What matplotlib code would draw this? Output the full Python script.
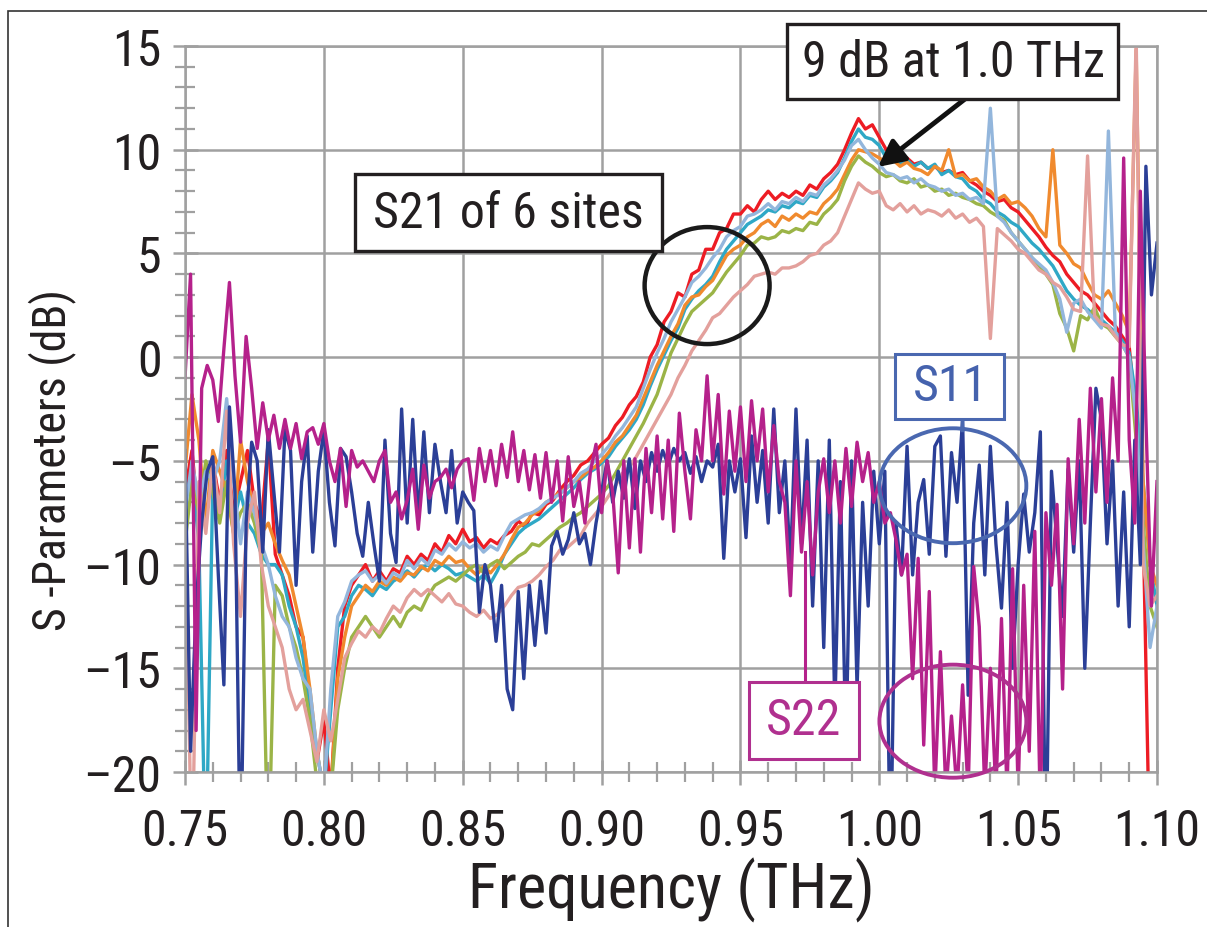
import matplotlib
matplotlib.use('Agg')
import matplotlib.pyplot as plt
import numpy as np
from matplotlib import font_manager
from matplotlib.patches import Rectangle, Ellipse
from matplotlib.ticker import MultipleLocator, FuncFormatter

# a narrow face is closer to the original; fall back to Liberation Sans with smaller sizes
installed = {f.name for f in font_manager.fontManager.ttflist}
if 'Liberation Sans Narrow' in installed:
    face, k = 'Liberation Sans Narrow', 1.0
elif 'Roboto Condensed' in installed:
    face, k = 'Roboto Condensed', 1.0
else:
    face, k = 'Liberation Sans', 0.86
plt.rcParams['font.family'] = [face, 'DejaVu Sans']

# S21 traces sampled every 2.5 GHz, S11 / S22 every 2 GHz
freq_s21 = np.round(np.linspace(0.75, 1.10, 141), 4)
freq_refl = np.round(np.linspace(0.75, 1.10, 176), 4)

s21_red = [
    -6.5, -4.5, -8.0, -5.5, -5.0, -7.0, -4.5, -7.5, -6.0, -4.5,
    -7.0, -8.0, -4.0, -9.5, -10.5, -11.5, -13.0, -13.5, -16.5, -19.5,
    -17.5, -21.0, -15.0, -12.0, -11.0, -10.5, -10.0, -10.8, -10.3, -10.8,
    -10.2, -10.4, -9.6, -10.0, -9.5, -9.8, -9.0, -9.4, -8.6, -9.0,
    -8.3, -8.9, -8.7, -9.2, -8.8, -9.0, -8.6, -8.4, -7.9, -8.2,
    -7.5, -7.6, -7.1, -6.9, -6.4, -6.0, -5.7, -5.2, -5.0, -4.6,
    -4.2, -3.9, -3.3, -2.9, -2.3, -1.9, -1.2, 0.0, 0.6, 1.7,
    2.2, 3.1, 2.9, 4.0, 4.2, 5.2, 5.2, 6.0, 6.2, 6.9,
    6.9, 7.3, 7.0, 7.6, 8.0, 7.6, 7.9, 7.7, 8.0, 7.8,
    8.3, 8.1, 8.6, 8.9, 9.3, 10.0, 10.8, 11.5, 11.0, 11.2,
    10.6, 10.0, 9.8, 9.5, 9.6, 9.3, 9.4, 9.1, 9.2, 8.9,
    9.0, 8.8, 8.9, 8.5, 8.3, 8.0, 7.8, 7.5, 7.6, 7.2,
    7.0, 6.6, 6.2, 5.8, 5.3, 4.9, 4.6, 4.0, 3.6, 3.2,
    3.0, 2.6, 2.2, 1.8, 1.5, 1.0, 0.5, -3.0, -8.0, -25.0,
    -25.0]

s21_cyan = [
    -7.0, -5.5, -9.0, -25.0, -6.0, -7.5, -5.0, -8.0, -6.5, -8.0,
    -8.5, -9.5, -10.0, -10.0, -10.5, -12.0, -13.0, -14.5, -17.0, -19.0,
    -21.0, -17.0, -13.0, -12.5, -11.5, -11.0, -11.2, -11.5, -11.0, -11.2,
    -10.8, -10.6, -10.3, -10.6, -10.2, -10.0, -10.3, -10.0, -10.2, -10.5,
    -10.4, -10.6, -10.8, -10.5, -10.9, -10.3, -9.5, -9.0, -8.5, -8.2,
    -8.0, -7.8, -7.5, -7.2, -6.9, -6.6, -6.3, -5.9, -5.6, -5.4,
    -5.1, -4.8, -4.3, -3.9, -3.5, -3.0, -2.3, -1.4, -0.6, 0.1,
    0.8, 1.4, 2.3, 2.8, 3.2, 3.5, 3.9, 4.6, 5.2, 5.6,
    6.0, 6.4, 6.6, 6.8, 7.1, 7.0, 7.3, 7.2, 7.5, 7.4,
    7.8, 7.7, 8.2, 8.5, 8.9, 9.6, 10.4, 11.0, 10.6, 10.5,
    10.2, 9.6, 9.5, 9.3, 9.5, 9.2, 9.4, 9.1, 9.3, 8.8,
    9.0, 8.7, 8.6, 8.2, 8.0, 7.6, 7.4, 7.0, 6.8, 6.5,
    6.3, 5.9, 5.5, 5.2, 4.8, 4.4, 3.8, 3.2, 2.8, 2.5,
    2.3, 2.0, 1.8, 1.5, 1.2, 0.8, 0.2, -2.0, -6.0, -10.0,
    -12.0]

s21_orange = [
    -5.5, -1.8, -4.0, -8.0, -4.5, -5.5, -6.5, -8.5, -4.0, -6.0,
    -7.5, -8.5, -8.0, -9.0, -9.8, -10.5, -12.0, -13.5, -16.0, -19.0,
    -21.0, -21.0, -15.5, -13.5, -12.0, -11.5, -11.0, -11.3, -10.8, -11.0,
    -10.6, -10.8, -10.4, -10.5, -10.1, -10.3, -9.8, -10.0, -9.6, -9.9,
    -9.8, -10.2, -10.5, -10.1, -10.4, -10.0, -9.5, -8.8, -8.2, -8.0,
    -7.6, -7.4, -7.0, -6.8, -6.5, -6.3, -6.0, -5.8, -5.5, -5.3,
    -5.0, -4.6, -4.1, -3.8, -3.3, -2.8, -2.0, -1.2, -0.4, 0.3,
    1.0, 1.6, 2.5, 2.9, 3.0, 3.4, 3.7, 4.3, 4.9, 5.2,
    5.4, 5.8, 6.0, 6.4, 6.6, 6.3, 6.8, 6.6, 6.9, 6.7,
    7.0, 6.9, 7.4, 7.7, 8.1, 8.8, 9.5, 10.0, 9.9, 9.8,
    9.6, 9.4, 9.5, 9.2, 9.4, 9.1, 9.0, 8.8, 9.2, 9.0,
    10.0, 8.7, 8.8, 8.5, 8.6, 8.2, 8.0, 7.6, 7.8, 7.4,
    7.5, 7.2, 6.8, 6.2, 5.8, 10.0, 5.4, 5.0, 4.5, 4.3,
    3.6, 3.0, 2.8, 3.2, 2.6, 2.0, 1.2, 14.8, -6.0, -10.0,
    -11.0]

s21_green = [
    -9.0, -6.0, -7.5, -5.0, -6.5, -8.0, -6.0, -8.5, -7.5, -7.0,
    -8.0, -9.5, -25.0, -11.0, -11.5, -13.0, -14.0, -15.5, -17.5, -20.5,
    -21.0, -21.0, -17.0, -15.0, -13.5, -13.0, -12.5, -13.0, -13.5, -13.0,
    -12.5, -13.0, -12.3, -12.0, -12.2, -11.5, -11.0, -10.8, -10.6, -10.8,
    -10.5, -10.2, -10.0, -10.4, -10.0, -9.8, -10.2, -9.9, -9.6, -9.4,
    -9.0, -9.1, -8.8, -8.5, -8.2, -8.0, -7.7, -7.5, -7.2, -6.9,
    -6.6, -6.2, -5.6, -5.0, -4.4, -3.8, -3.2, -2.5, -1.8, -0.8,
    0.2, 0.9, 1.6, 2.2, 2.5, 2.8, 3.1, 3.6, 4.1, 4.5,
    4.9, 5.4, 5.5, 5.8, 5.7, 5.8, 6.1, 6.0, 6.2, 6.1,
    6.5, 6.4, 6.9, 7.2, 7.6, 8.5, 9.2, 9.7, 9.4, 9.2,
    8.9, 8.7, 8.8, 8.5, 8.4, 8.6, 8.2, 8.3, 8.0, 8.1,
    7.8, 7.9, 7.7, 7.6, 7.4, 7.3, 7.0, 6.8, 6.6, 6.0,
    5.6, 5.2, 4.8, 4.4, 4.0, 3.5, 2.1, 1.4, 0.3, 2.0,
    1.8, 2.4, 1.6, 1.4, 1.0, 0.6, 0.0, -4.0, -8.0, -12.0,
    -13.0]

s21_lightblue = [
    -7.5, -5.0, -7.0, -5.5, -6.0, -5.0, -2.0, -6.0, -9.0, -6.5,
    -7.5, -9.0, -10.0, -11.5, -12.5, -13.0, -14.5, -15.5, -16.0, -19.0,
    -21.0, -16.0, -12.5, -11.8, -10.8, -10.5, -10.3, -10.8, -10.5, -10.9,
    -10.4, -10.6, -9.8, -10.2, -9.7, -10.0, -9.3, -9.5, -9.0, -9.3,
    -8.9, -9.2, -9.0, -9.4, -9.1, -9.3, -8.6, -8.0, -7.8, -7.6,
    -7.5, -7.3, -7.0, -6.8, -6.6, -6.3, -6.0, -5.6, -5.4, -5.0,
    -4.7, -4.3, -3.8, -3.4, -2.9, -2.4, -1.5, -0.6, 0.2, 0.9,
    1.7, 2.3, 2.9, 3.6, 3.9, 4.3, 4.8, 5.2, 5.8, 6.1,
    6.3, 6.8, 6.9, 7.1, 7.4, 7.1, 7.5, 7.4, 7.7, 7.5,
    7.9, 7.8, 8.3, 8.6, 9.0, 9.5, 10.2, 10.5, 10.0, 9.6,
    9.3, 8.9, 8.8, 8.6, 8.7, 8.4, 8.6, 8.3, 8.2, 8.0,
    8.1, 7.8, 7.9, 7.6, 7.7, 7.4, 12.0, 6.8, 6.5, 6.0,
    5.6, 5.2, 4.8, 4.5, 4.2, 3.6, 2.8, 1.2, 2.6, 2.8,
    2.2, 1.8, 1.4, 10.9, 1.2, 0.6, 0.0, -3.0, -9.0, -14.0,
    -12.0]

s21_pink = [
    -7.0, -25.0, -6.0, -8.5, -5.0, -7.5, -2.6, -9.0, -12.5, -8.0,
    -6.5, -10.0, -12.0, -13.0, -14.0, -16.0, -17.0, -16.5, -18.0, -19.5,
    -17.0, -18.5, -16.5, -14.5, -13.8, -13.2, -13.5, -13.0, -13.3, -12.6,
    -12.0, -12.3, -11.6, -11.2, -11.5, -11.2, -11.5, -11.8, -11.4, -11.9,
    -12.0, -12.3, -12.5, -12.2, -12.6, -12.4, -12.0, -11.5, -11.1, -11.0,
    -10.8, -10.5, -10.1, -9.8, -9.3, -9.2, -8.9, -8.6, -8.0, -7.6,
    -7.2, -6.7, -6.2, -5.6, -5.3, -4.8, -4.2, -3.6, -3.0, -2.4,
    -1.8, -1.0, -0.4, 0.3, 0.8, 1.3, 1.9, 2.1, 2.5, 2.9,
    3.2, 3.5, 3.9, 4.0, 4.1, 4.0, 4.3, 4.3, 4.4, 4.6,
    4.9, 5.0, 5.4, 5.6, 6.0, 6.8, 7.6, 8.4, 8.1, 7.9,
    8.0, 7.3, 7.1, 7.4, 7.0, 7.3, 6.9, 7.1, 7.0, 6.8,
    7.1, 6.7, 6.9, 6.5, 6.7, 6.3, 0.9, 6.2, 5.9, 5.6,
    5.2, 5.0, 4.6, 4.2, 4.0, 3.6, 3.4, 2.9, 2.3, 2.2,
    9.7, 2.0, 1.6, 1.5, 1.0, 0.6, 0.5, 15.5, -10.0, -12.0,
    -11.5]

s11 = [
    -4.5, -19.0, -12.0, -8.0, -5.5, -4.8, -10.5, -15.8, -2.4, -6.5,
    -25.0, -8.0, -4.1, -5.0, -9.4, -3.5, -6.5, -9.4, -3.5, -4.5,
    -11.0, -6.0, -3.8, -9.4, -5.5, -3.5, -7.0, -9.1, -4.4, -4.8,
    -6.5, -8.5, -9.6, -7.0, -9.0, -10.8, -4.0, -8.5, -9.9, -2.5,
    -8.0, -3.0, -7.8, -3.6, -7.5, -4.2, -6.0, -7.5, -4.5, -8.0,
    -6.5, -7.0, -7.4, -12.3, -10.0, -11.0, -13.7, -11.0, -16.0, -17.0,
    -11.3, -15.5, -11.0, -13.9, -10.8, -13.3, -9.1, -8.4, -9.5, -8.8,
    -7.5, -9.0, -8.5, -10.0, -8.0, -6.5, -5.0, -7.0, -5.5, -6.8,
    -4.9, -7.3, -5.0, -6.0, -4.6, -5.5, -4.5, -5.2, -4.4, -5.0,
    -4.6, -5.6, -4.8, -6.0, -5.0, -5.3, -4.2, -9.7, -5.0, -6.5,
    -4.9, -8.7, -3.8, -7.0, -4.5, -8.0, -2.5, -7.5, -5.0, -10.0,
    -2.5, -9.0, -4.0, -12.0, -5.0, -14.0, -4.0, -17.0, -6.0, -19.0,
    -5.0, -16.0, -7.0, -12.0, -5.5, -9.0, -5.5, -25.0, -8.0, -10.5,
    -4.3, -10.5, -7.0, -5.9, -9.5, -4.3, -3.8, -9.6, -4.6, -7.0,
    -3.0, -16.3, -8.0, -5.2, -10.5, -4.3, -9.0, -12.1, -7.0, -15.0,
    -10.0, -6.6, -9.4, -7.5, -3.6, -25.0, -5.5, -9.0, -12.5, -5.4,
    -9.4, -5.0, -15.0, -8.0, -1.5, -3.0, -9.0, -5.0, -12.0, -6.5,
    -13.0, -4.0, -10.0, 9.2, 3.0, 5.5]

s22 = [
    -1.0, 4.0, -18.0, -1.5, -0.4, -1.1, -3.1, 0.4, 3.6, -0.9,
    -4.1, 1.0, -1.5, -4.4, -2.2, -4.0, -2.8, -4.4, -3.0, -4.4,
    -3.2, -4.9, -3.6, -3.4, -4.2, -3.2, -5.0, -6.0, -4.4, -7.2,
    -4.5, -5.3, -5.0, -5.5, -6.0, -5.0, -4.5, -7.0, -6.5, -7.8,
    -6.9, -5.4, -8.3, -5.2, -6.8, -6.0, -5.8, -5.4, -6.3, -5.4,
    -5.0, -4.9, -6.9, -4.4, -6.0, -4.5, -6.2, -4.2, -5.8, -3.6,
    -6.0, -4.5, -6.4, -4.7, -6.8, -4.6, -7.0, -5.0, -7.9, -4.8,
    -7.2, -6.0, -8.0, -5.5, -4.2, -7.5, -5.0, -6.5, -10.4, -5.0,
    -9.2, -4.9, -9.4, -4.4, -7.5, -3.8, -7.8, -4.0, -8.4, -2.7,
    -5.5, -7.8, -3.5, -5.0, -0.9, -5.0, -1.8, -6.6, -2.6, -5.5,
    -2.4, -6.0, -2.1, -5.0, -2.5, -6.5, -3.3, -6.0, -7.0, -11.5,
    -5.0, -9.4, -6.0, -10.5, -6.5, -4.9, -7.5, -5.0, -8.0, -4.4,
    -7.2, -4.1, -6.0, -4.6, -7.0, -6.0, -8.0, -7.5, -8.8, -10.5,
    -9.5, -15.5, -9.7, -18.7, -11.3, -21.0, -14.2, -21.0, -17.3, -21.0,
    -15.8, -21.0, -10.1, -13.0, -21.0, -15.0, -21.0, -12.6, -21.0, -10.2,
    -21.0, -11.0, -19.0, -8.4, -22.0, -7.5, -11.0, -7.1, -16.0, -4.9,
    -9.0, -3.0, -8.0, -1.5, -6.5, -2.0, -7.0, -1.0, -5.0, 9.6,
    -4.0, -8.0, 8.0, -3.0, -12.0, -6.0]

s21_traces = [s21_red, s21_cyan, s21_orange, s21_green, s21_lightblue, s21_pink]
s21_colors = ['#ed1c24', '#2fa8c6', '#f08a2e', '#9bb447', '#93b6dc', '#e3a09c']

W, H = 1207, 928
grid_col = '#a0a0a0'


def fig_box(fig, x0, y0, x1, y1, edge, lw=2.2):
    # box given in image pixels (top-left origin)
    r = Rectangle((x0 / W, 1 - y1 / H), (x1 - x0) / W, (y1 - y0) / H,
                  transform=fig.transFigure, facecolor='white',
                  edgecolor=edge, lw=lw, zorder=5)
    fig.add_artist(r)


def fig_text(fig, x, y, s, color='#231f20', size=36, **kw):
    fig.text(x / W, 1 - y / H, s, color=color, fontsize=size * k,
             ha='center', va='center', zorder=6, **kw)


fig = plt.figure(figsize=(W / 100, H / 100), dpi=100)
ax = fig.add_axes([185 / W, 1 - 773 / H, 972 / W, 726 / H])

for vals, col in zip(s21_traces, s21_colors):
    ax.plot(freq_s21, vals, color=col, lw=2.4)
ax.plot(freq_refl, s11, color='#2b3f97', lw=2.4)
ax.plot(freq_refl, s22, color='#b5218b', lw=2.4)

ax.set_xlim(0.75, 1.10)
ax.set_ylim(-20, 15)
ax.xaxis.set_major_locator(MultipleLocator(0.05))
ax.xaxis.set_minor_locator(MultipleLocator(0.01))
ax.yaxis.set_major_locator(MultipleLocator(5))
ax.yaxis.set_minor_locator(MultipleLocator(1))
ax.xaxis.set_major_formatter(FuncFormatter(lambda v, p: f'{v:.2f}'))
ax.yaxis.set_major_formatter(FuncFormatter(lambda v, p: f'{v:.0f}'.replace('-', '\u2013')))

ax.grid(True, which='major', color=grid_col, lw=1.8)
ax.set_axisbelow(True)
for sp in ax.spines.values():
    sp.set_color(grid_col)
    sp.set_linewidth(1.8)
ax.tick_params(which='major', direction='inout', length=18, width=1.8,
               color=grid_col, labelsize=36 * k, labelcolor='#231f20')
ax.tick_params(which='minor', direction='inout', length=15, width=1.6, color=grid_col)
ax.tick_params(axis='x', which='major', pad=16)
ax.tick_params(axis='y', which='major', pad=8)

# annotations
ax.add_patch(Ellipse((0.938, 3.45), 0.045, 5.64, fill=False, edgecolor='#1a1a1a',
                     lw=3.2, zorder=10))
ax.add_patch(Ellipse((1.0265, -6.2), 0.0529, 5.54, fill=False, edgecolor='#4a68b0',
                     lw=2.8, zorder=10))
ax.add_patch(Ellipse((1.0265, -17.55), 0.0529, 5.45, fill=False, edgecolor='#b0308f',
                     lw=2.8, zorder=10, clip_on=False))
ax.plot([1.0298, 1.0298], [-3.0, -3.5], color='#4a68b0', lw=2.5, zorder=10)
ax.plot([0.9733, 0.9733], [-15.67, -9.4], color='#b5218b', lw=2.2, zorder=10)

ax.annotate('', xy=(0.9995, 9.17), xytext=(965, H - 100), textcoords='figure pixels',
            arrowprops=dict(arrowstyle='-|>', color='#111111', lw=3.5,
                            mutation_scale=40, shrinkA=0, shrinkB=0),
            annotation_clip=False, zorder=11)

fig_box(fig, 355, 175, 662, 252, '#231f20', lw=2.4)
fig_text(fig, 508, 214, 'S21 of 6 sites')
fig_box(fig, 787, 25, 1118, 100, '#231f20', lw=2.4)
fig_text(fig, 953, 63, '9 dB at 1.0 THz')
fig_box(fig, 895, 355, 1004, 420, '#4a68b0')
fig_text(fig, 950, 387, 'S11', color='#4562ad')
fig_box(fig, 749, 683, 859, 760, '#b0308f')
fig_text(fig, 804, 721, 'S22', color='#b0308f')

fig_text(fig, 671, 890, 'Frequency (THz)', size=45)
fig_text(fig, 52, 460, 'S -Parameters (dB)', size=33, rotation=90)

# outer frame of the original figure
fig.add_artist(Rectangle((8 / W, -0.1), 1.2, 1.1 - 12 / H, transform=fig.transFigure,
                         fill=False, edgecolor='#333333', lw=1.2))

fig.savefig('out.png', dpi=100)
